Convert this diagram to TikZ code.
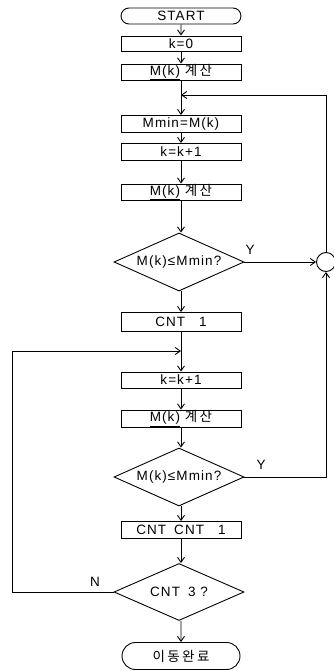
\documentclass[tikz,border=0pt]{standalone}
\usepackage{fontspec}
\setmainfont{Liberation Sans}[LetterSpace=8]
\newfontfamily\kr{Noto Sans CJK KR}[LetterSpace=18]
\usetikzlibrary{shapes.misc,shapes.geometric,arrows.meta}
\begin{document}
\begin{tikzpicture}[x=1pt,y=-1pt,
  line width=0.9pt,
  arr/.style={-{Straight Barb[length=5pt,width=7pt]}},
  txt/.style={font=\fontsize{13.5}{13.5}\selectfont},
  box/.style={txt,draw,rectangle,minimum width=120pt,minimum height=16pt,inner sep=0pt},
  term/.style={txt,draw,rounded rectangle,minimum width=120pt,inner sep=0pt},
  dia/.style={draw,diamond,minimum width=130pt,minimum height=58pt,inner sep=0pt},
  dtext/.style={txt,inner sep=0pt},
  lbl/.style={txt,inner sep=0pt}]
\useasboundingbox (0,0) rectangle (333,671);
\fill[white] (0,0) rectangle (333,671);

\node[term,minimum height=16pt] (start) at (181,16) {START};
\node[box,minimum height=15pt] (k0) at (181,43.5) {k=0};
\node[box] (mk1) at (181,72) {\underline{M(k)} {\kr 계산}};
\coordinate (j1) at (181,95);
\node[box,minimum height=17pt] (mmin) at (181,124) {Mmin=M(k)};
\node[box,minimum height=17pt] (kk1) at (181,152) {k=k+1};
\node[box] (mk2) at (181,192) {\underline{M(k)} {\kr 계산}};
\node[dia] (d1) at (179,262) {};
\node[dtext] (d1t) at (d1) {M(k)≤Mmin?};
\node[draw,circle,minimum size=19pt,inner sep=0pt] (c) at (326,262) {};
\node[box,minimum height=19pt] (cnt1) at (181,322) {CNT\hspace{14pt}1};
\coordinate (j2) at (181,351);
\node[box] (kk2) at (181,380) {k=k+1};
\node[box,minimum height=17pt] (mk3) at (181,418.5) {\underline{M(k)} {\kr 계산}};
\node[dia] (d2) at (179,477) {};
\node[dtext] (d2t) at (d2) {M(k)≤Mmin?};
\node[box,minimum height=17pt] (cntc) at (181,530) {CNT\hspace{8pt}CNT\hspace{14pt}1};
\node[dia,minimum height=57pt] (d3) at (179,592) {};
\node[dtext] (d3t) at (d3) {CNT\hspace{8pt}3 ?};
\node[term,minimum height=27pt,minimum width=118pt] (end) at (181,656) {{\kr 이동완료}};
\coordinate (lft) at (12,592);

\node[lbl] (y1) at (250,250) {Y};
\node[lbl] (y2) at (261,465) {Y};
\node[lbl] (n1) at (95,582) {N};

\draw[arr] (start) -- (k0);
\draw[arr] (k0) -- (mk1);
\draw[arr] (mk1) -- (mmin);
\draw[arr] (mmin) -- (kk1);
\draw[arr] (kk1) -- (mk2);
\draw[arr] (mk2) -- (mk2 |- d1.north);
\draw[arr] (mk2 |- d1.south) -- (cnt1);
\draw[arr] (d1.east) -- (c.west);
\draw[arr] (c.north) |- (j1);
\draw[arr] (cnt1) -- (kk2);
\draw[arr] (kk2) -- (mk3);
\draw[arr] (mk3) -- (mk3 |- d2.north);
\draw[arr] (d2.east) -| (c.south);
\draw[arr] (cntc |- d2.south) -- (cntc);
\draw[arr] (cntc) -- (cntc |- d3.north);
\draw[arr] (end |- d3.south) -- (end);
\draw[arr] (d3.west) -- (lft) |- (j2);
\end{tikzpicture}
\end{document}
